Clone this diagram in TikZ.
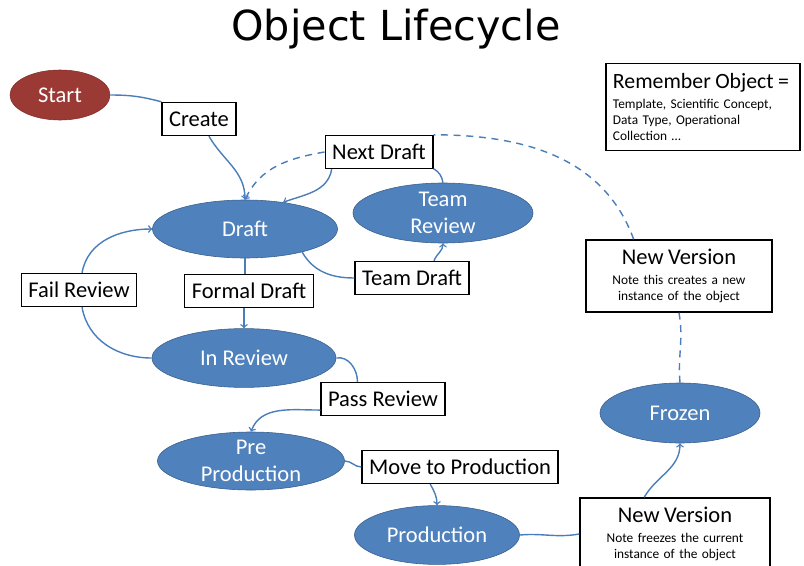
\documentclass[tikz,border=0pt]{standalone}
\usepackage{fontspec}
\setmainfont{Carlito}
\newfontfamily\titlefont{DejaVu Sans}
\usepackage{tikz}
\usetikzlibrary{positioning, calc, shapes.geometric}

\definecolor{stateblue}{HTML}{4F81BD}
\definecolor{stateedge}{HTML}{385D8A}
\definecolor{startred}{HTML}{9B3A35}
\definecolor{startedge}{HTML}{7F2E2A}
\definecolor{linkblue}{HTML}{4A7EBB}
\newcommand{\notesize}{\fontsize{9.5}{11.5}\selectfont}
\newcommand{\headsize}{\fontsize{16}{19}\selectfont}

\begin{document}
\begin{tikzpicture}[x=0.025cm, y=-0.025cm, font=\headsize]
        % Define block styles
        \tikzstyle{state} = [ellipse, draw=stateedge, fill=stateblue, text=white, align=center, inner sep=-3pt, minimum width=4.6cm, minimum height=1.47cm]
        \tikzstyle{trans} = [rectangle, draw=black, fill=white, line width=1pt, inner xsep=5pt, minimum height=0.825cm]
        \tikzstyle{notebox} = [trans, font=\notesize, align=center, text width=4.3cm, minimum height=1.8cm]
        \tikzstyle{link} = [draw=linkblue, line width=1pt]
        \tikzstyle{later} = [link, dash pattern=on 5pt off 4pt]

        \useasboundingbox (0,0) rectangle (804,566);

        % Add title to the picture
        \node[anchor=base, font=\titlefont\fontsize{29.4}{32}\selectfont] (title) at (396,40) {Object Lifecycle};

        % Place nodes
        \node [state, fill=startred, draw=startedge, minimum width=2.5cm, minimum height=1.25cm] (start) at (60,95) {Start};
        \node [state, minimum width=4.625cm, minimum height=1.45cm] (draft) at (245,229) {Draft};
        \node [state, minimum width=4.5cm, minimum height=1.5cm] (team) at (443,213) {Team\\Review};
        \node [state] (inreview) at (244,358) {In Review};
        \node [state, minimum width=4.675cm, minimum height=1.45cm] (preprod) at (251,461) {Pre\\Production};
        \node [state, minimum width=4.125cm] (production) at (437,535) {Production};
        \node [state, minimum width=4cm, minimum height=1.5cm] (frozen) at (680,413) {Frozen};

        \node [trans] (create) at (199,119) {Create};
        \node [trans] (next_draft) at (379,152) {Next Draft};
        \node [trans] (team_draft) at (412,278) {Team Draft};
        \node [trans] (fail) at (79,290) {Fail Review};
        \node [trans] (formal) at (249,291) {Formal Draft};
        \node [trans] (pass) at (383,399) {Pass Review};
        \node [trans] (move) at (460,467) {Move to Production};
        \node [notebox, minimum width=4.55cm] (new_version) at (679,276) {{\headsize New Version}\\[3pt] Note this creates a new\\ instance of the object};
        \node [notebox, minimum width=4.75cm] (freeze_version) at (675,534) {{\headsize New Version}\\[3pt] Note freezes the current\\ instance of the object};
        \node [notebox, align=left, text width=4.5cm, inner xsep=5pt, minimum height=2.175cm] (remember) at (703,107) {{\fontsize{15.5}{19}\selectfont Remember Object =}\\[3pt] Template, Scientific Concept,\\ Data Type, Operational\\ Collection \dots};

        % Draw connections as arrows
        \draw [link] (start.east) to[out=0, in=165] (create.north west);
        \draw [link, ->] (create.-60) to[out=-60, in=90] (draft.north);
        \draw [link, ->] (next_draft.-160) to[out=-100, in=20] (draft.35);
        \draw [link] (next_draft.-17) to[out=-30, in=100] (team.north);
        \draw [link] (draft.-22) to[out=-60, in=180] (team_draft.west);
        \draw [link, ->] (team_draft.38) to[out=70, in=-90] (team.south);
        \draw [link] (draft.south) -- (draft.south |- formal.north);
        \draw [link, ->] (inreview.north |- formal.south) -- (inreview.north);
        \draw [link] (inreview.west) to[out=180, in=-80] (fail.-80);
        \draw [link, ->] (fail.80) to[out=80, in=180] (draft.west);
        \draw [link] (inreview.east) to[out=10, in=90] (pass.146);
        \draw [link, ->] (pass.190) to[out=180, in=70] (preprod.north);
        \draw [link] (preprod.east) to[out=0, in=180] (move.west);
        \draw [link, ->] (move.-150) to[out=-60, in=90] (production.north);
        \draw [link] (production.east) to[out=5, in=190] (freeze_version.west);
        \draw [link, ->] (freeze_version.130) to[out=60, in=-90] (frozen.south);

        % Dashed path back to a new draft
        \draw [later] (frozen.north) to[out=95, in=-80] (new_version.south);
        \draw [later] (new_version.141) to[out=110, in=0] (next_draft.north east);
        \draw [later, ->] (next_draft.west) to[out=190, in=65] (draft.north);
    \end{tikzpicture}
\end{document}
